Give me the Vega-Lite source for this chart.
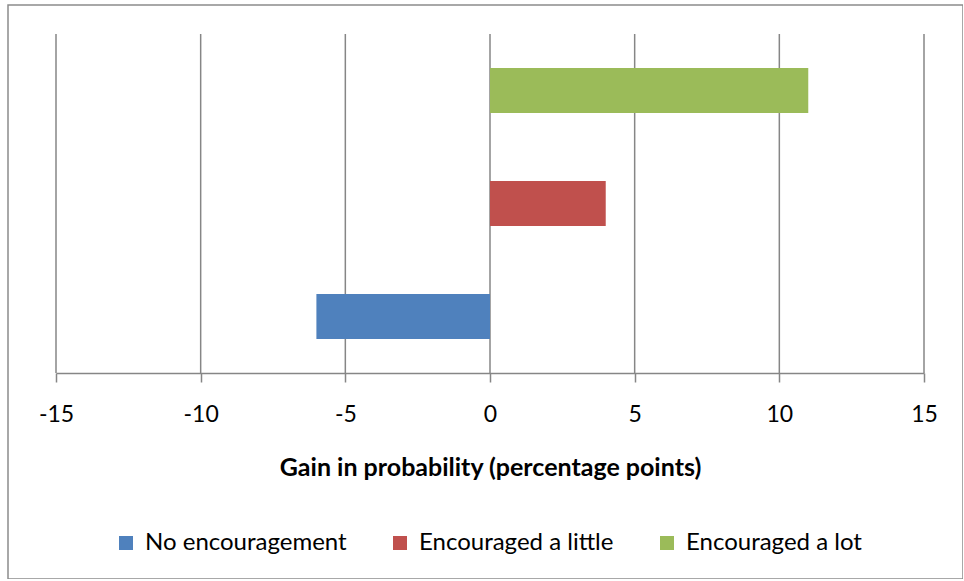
{
  "$schema": "https://vega.github.io/schema/vega-lite/v6.json",
  "width": 955,
  "height": 574,
  "padding": {"left": 8, "top": 5, "right": 0, "bottom": 0},
  "autosize": {"type": "none"},
  "background": "white",
  "config": {
    "font": "Lato",
    "view": {"stroke": "#8c8c8c", "strokeWidth": 1.5},
    "axisX": {
      "labelExpr": "datum.value < 0 ? '-' + abs(datum.value) : '' + datum.value",
      "offset": -206,
      "grid": false,
      "domainColor": "#868686",
      "domainWidth": 1.5,
      "tickColor": "#868686",
      "tickWidth": 1.5,
      "tickSize": 9,
      "labelFontSize": 23,
      "labelColor": "#000000",
      "labelPadding": 21,
      "labelFlush": false,
      "titleFontSize": 25,
      "titleFontWeight": "bold",
      "titleColor": "#000000",
      "titlePadding": 29
    }
  },
  "datasets": {
    "ticks": [
      {"tick": -15}, {"tick": -10}, {"tick": -5}, {"tick": 0},
      {"tick": 5}, {"tick": 10}, {"tick": 15}
    ],
    "gains": [
      {"group": "No encouragement", "gain": -6},
      {"group": "Encouraged a little", "gain": 4},
      {"group": "Encouraged a lot", "gain": 11}
    ]
  },
  "layer": [
    {
      "data": {"name": "ticks"},
      "mark": {"type": "rule", "color": "#868686", "strokeWidth": 1.5},
      "encoding": {
        "x": {
          "field": "tick",
          "type": "quantitative",
          "scale": {"domain": [-15, 15], "range": [48, 916], "nice": false, "zero": true},
          "axis": {
            "title": "Gain in probability (percentage points)",
            "values": [-15, -10, -5, 0, 5, 10, 15]
          }
        },
        "y": {
          "datum": 0,
          "type": "quantitative",
          "scale": {"domain": [0, 1], "range": [368, 29]},
          "axis": null
        },
        "y2": {"datum": 1}
      }
    },
    {
      "data": {"name": "gains"},
      "mark": {"type": "bar", "orient": "horizontal"},
      "encoding": {
        "y": {
          "field": "group",
          "type": "nominal",
          "sort": ["Encouraged a lot", "Encouraged a little", "No encouragement"],
          "scale": {"range": [29, 368], "paddingInner": 0.6, "paddingOuter": 0.3},
          "axis": null
        },
        "x": {
          "field": "gain",
          "type": "quantitative",
          "scale": {"domain": [-15, 15], "range": [48, 916], "nice": false, "zero": true},
          "axis": {
            "title": "Gain in probability (percentage points)",
            "values": [-15, -10, -5, 0, 5, 10, 15]
          }
        },
        "color": {
          "field": "group",
          "type": "nominal",
          "scale": {
            "domain": ["No encouragement", "Encouraged a little", "Encouraged a lot"],
            "range": ["#4F81BD", "#C0504D", "#9BBB59"]
          },
          "legend": {
            "title": null,
            "orient": "none",
            "direction": "horizontal",
            "legendX": 106,
            "legendY": 526,
            "symbolType": "square",
            "symbolSize": 196,
            "symbolStrokeWidth": 0,
            "symbolOpacity": 1,
            "labelFontSize": 24,
            "labelColor": "#000000",
            "labelLimit": 0,
            "labelOffset": 7,
            "columnPadding": 41
          }
        }
      }
    }
  ],
  "resolve": {"scale": {"y": "independent"}}
}
